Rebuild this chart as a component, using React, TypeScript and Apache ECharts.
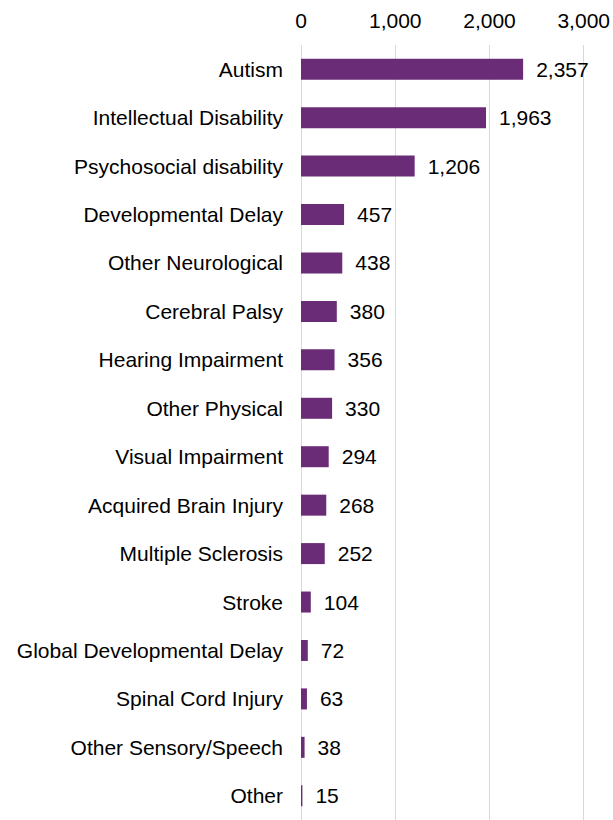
import React, { useEffect, useRef } from "react";
import * as echarts from "echarts";

const categories = [
  "Autism",
  "Intellectual Disability",
  "Psychosocial disability",
  "Developmental Delay",
  "Other Neurological",
  "Cerebral Palsy",
  "Hearing Impairment",
  "Other Physical",
  "Visual Impairment",
  "Acquired Brain Injury",
  "Multiple Sclerosis",
  "Stroke",
  "Global Developmental Delay",
  "Spinal Cord Injury",
  "Other Sensory/Speech",
  "Other",
];
const values = [2357, 1963, 1206, 457, 438, 380, 356, 330, 294, 268, 252, 104, 72, 63, 38, 15];
const axisMin = 0;
const axisMax = 3000;
const axisInterval = 1000;

const FONT = "'Liberation Sans', Arial, sans-serif";

export default function App() {
  const ref = useRef<HTMLDivElement>(null);
  useEffect(() => {
    if (!ref.current) return;
    const chart = echarts.init(ref.current, undefined, { renderer: "svg" });
    chart.setOption({
      animation: false,
      textStyle: { fontFamily: FONT },
      grid: { left: 301, right: 27, top: 45, height: 779, containLabel: false },
      xAxis: {
        type: "value",
        position: "top",
        min: axisMin,
        max: axisMax,
        interval: axisInterval,
        axisLine: { show: false },
        axisTick: { show: false },
        axisLabel: {
          fontSize: 21,
          color: "#000",
          fontFamily: FONT,
          margin: 14,
          formatter: (v: number) => v.toLocaleString("en-US"),
        },
        splitLine: { show: true, lineStyle: { color: "#d9d9d9", width: 1 } },
      },
      yAxis: {
        type: "category",
        inverse: true,
        data: categories,
        axisLine: { show: false },
        axisTick: { show: false },
        axisLabel: { fontSize: 21, color: "#000", fontFamily: FONT, margin: 18 },
      },
      series: [
        {
          type: "bar",
          data: values,
          barWidth: 21,
          itemStyle: { color: "#6b2c77" },
          label: {
            show: true,
            position: "right",
            distance: 13,
            fontSize: 21,
            color: "#000",
            fontFamily: FONT,
            formatter: (p: any) => Number(p.value).toLocaleString("en-US"),
          },
        },
      ],
    });
    return () => chart.dispose();
  }, []);
  return (
    <div
      ref={ref}
      style={{ position: "absolute", left: 0, top: 0, width: 613, height: 820, background: "#fff" }}
    />
  );
}
